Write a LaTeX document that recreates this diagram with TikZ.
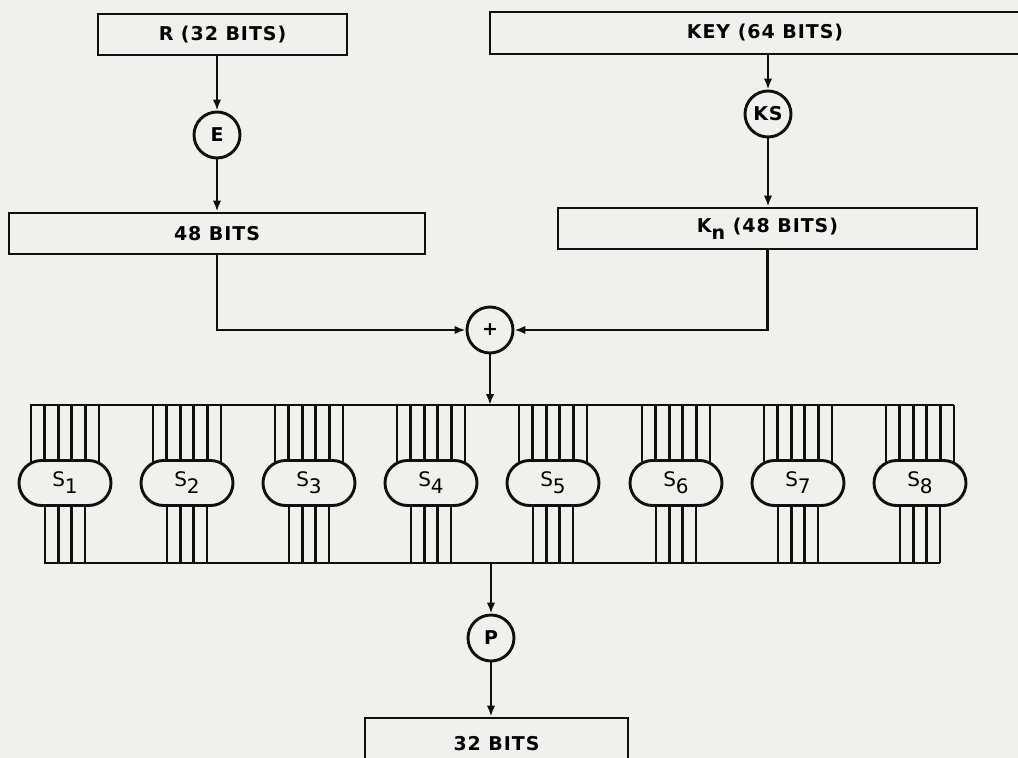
\documentclass[tikz,border=0pt]{standalone}
\usepackage{fontspec}
\setmainfont{DejaVu Sans}
\newfontfamily\lblfont[LetterSpace=5]{DejaVu Sans}
\usetikzlibrary{arrows.meta,shapes.misc}
\definecolor{bg}{RGB}{240,240,238}
\definecolor{ink}{RGB}{15,15,15}
\newcommand\lowidx[1]{\raisebox{-7pt}{#1}}
\tikzset{
  lbl/.style={font=\lblfont\bfseries\fontsize{19}{19}\selectfont},
  bitbox/.style={draw=ink, rectangle, minimum height=41pt, inner sep=0pt, lbl},
  opcirc/.style={draw=ink, circle, minimum size=46pt, inner sep=0pt, lbl},
  sbox/.style={draw=ink, fill=bg, rounded rectangle, minimum width=92pt, minimum height=45pt, inner sep=0pt, font=\fontsize{20}{20}\selectfont},
  wire/.style={draw=ink},
  arr/.style={draw=ink, -{Latex[length=11pt,width=8.5pt]}}
}
\begin{document}
\begin{tikzpicture}[x=1pt,y=-1pt,line width=2.9pt]
\useasboundingbox[fill=bg] (0,0) rectangle (1018,758);
\clip (0,0) rectangle (1018,758);

% top boxes
\node[bitbox, minimum width=249pt] (r) at (222.5,34.5) {R (32 BITS)};
\node[bitbox, minimum width=550pt, minimum height=42pt] (key) at (765,33) {KEY (64 BITS)};
\node[opcirc] (e) at (217,135) {E};
\node[opcirc] (ks) at (768,114) {KS};
\node[bitbox, minimum width=416pt] (b48) at (217,233.5) {48 BITS};
\node[bitbox, minimum width=419pt] (kn) at (767.5,228.5) {K\lowidx{n} (48 BITS)};
\node[opcirc] (xor) at (490,330) {+};

\draw[arr] (e |- r.south) -- (e);
\draw[arr] (e) -- (e |- b48.north);
\draw[arr] (ks |- key.south) -- (ks);
\draw[arr] (ks) -- (ks |- kn.north);
\draw[arr] (b48.south) |- (xor);
\draw[arr] (kn.south) |- (xor);

% S-box rails
\coordinate (tl) at (30,405);
\coordinate (tr) at (954,405);
\coordinate (bl) at (44,563);
\coordinate (br) at (940,563);
\draw[wire] (tl) -- (tr);
\draw[wire] (bl) -- (br);
\draw[arr] (xor) -- (xor |- tl);

\foreach \i in {1,...,8}{
  \pgfmathsetmacro\cx{round(65+122.1*(\i-1))}
  \foreach \k in {0,...,5}
    \draw[wire] ({\cx-34+13.6*\k},405) -- ({\cx-34+13.6*\k},483);
  \foreach \k in {0,...,3}
    \draw[wire] ({\cx-20+13.33*\k},483) -- ({\cx-20+13.33*\k},563);
  \node[sbox] (s\i) at (\cx,483) {S\lowidx{\i}};
}

% output
\node[opcirc] (p) at (491,638) {P};
\node[bitbox, minimum width=263pt, minimum height=52pt, text depth=0pt] (out) at (496.5,744) {\raisebox{1.5pt}{32 BITS}};
\draw[arr] (p |- bl) -- (p);
\draw[arr] (p) -- (p |- out.north);
\end{tikzpicture}
\end{document}
